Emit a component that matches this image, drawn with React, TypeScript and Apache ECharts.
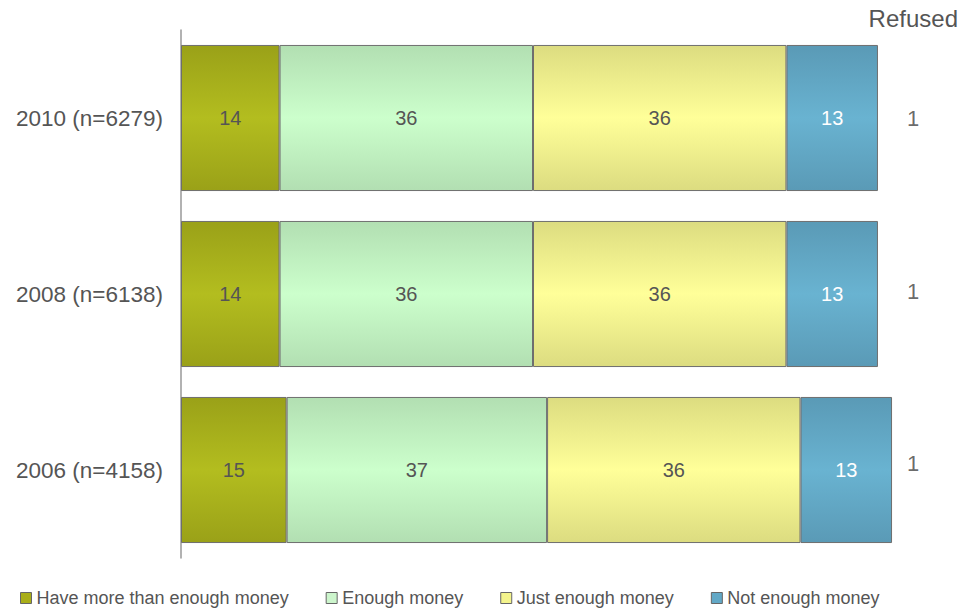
import React, { useEffect, useRef } from "react";
import * as echarts from "echarts";

const categories = ["2010 (n=6279)", "2008 (n=6138)", "2006 (n=4158)"];
const seriesNames = ["Have more than enough money", "Enough money", "Just enough money", "Not enough money"];
const moreThanEnough = [14, 14, 15];
const enough = [36, 36, 37];
const justEnough = [36, 36, 36];
const notEnough = [13, 13, 13];
const refused = [1, 1, 1];

const edgeColors = ["#9aa118", "#b2dfb2", "#dcdc80", "#5a9ab6"];
const midColors = ["#b3bd1f", "#ccffcc", "#ffff99", "#69b3d1"];
const solidColors = ["#a9ae18", "#ccf5cc", "#f4f48c", "#62a8c6"];
const labelColors = ["#555555", "#555555", "#555555", "#ffffff"];
const refusedOffsets = [[0, 0], [0, -3], [0, -7]];

const FONT = "Liberation Sans, Arial, Helvetica, sans-serif";

export default function App() {
  const ref = useRef<HTMLDivElement>(null);
  useEffect(() => {
    if (!ref.current) return;
    document.body.style.margin = "0";
    document.body.style.overflow = "hidden";
    const chart = echarts.init(ref.current, null, { renderer: "svg" });
    const values = [moreThanEnough, enough, justEnough, notEnough];
    const barSeries = values.map((arr, i) => ({
      type: "bar",
      name: seriesNames[i],
      stack: "total",
      barCategoryGap: "17%",
      clip: false,
      data: arr,
      itemStyle: {
        color: new echarts.graphic.LinearGradient(0, 0, 0, 1, [
          { offset: 0, color: edgeColors[i] },
          { offset: 0.5, color: midColors[i] },
          { offset: 1, color: edgeColors[i] },
        ]),
        borderColor: "#6e6e6e",
        borderWidth: 1,
      },
      label: {
        show: true,
        position: "inside",
        color: labelColors[i],
        fontSize: 20,
        fontFamily: FONT,
      },
    }));
    const refusedX = 104;
    chart.setOption({
      animation: false,
      textStyle: { fontFamily: FONT },
      grid: { left: 181, top: 30, width: 774.4, height: 528, containLabel: false },
      xAxis: {
        type: "value",
        min: 0,
        max: 110,
        show: false,
      },
      yAxis: {
        type: "category",
        data: categories,
        inverse: true,
        axisLine: { show: true, lineStyle: { color: "#999999", width: 1.5 } },
        axisTick: { show: false },
        axisLabel: { color: "#555555", fontSize: 22.5, margin: 18, fontFamily: FONT },
        splitLine: { show: false },
      },
      legend: {
        left: 15,
        top: 584,
        itemWidth: 11,
        itemHeight: 11,
        itemGap: 37,
        icon: "rect",
        textStyle: { color: "#555555", fontSize: 18, fontFamily: FONT, padding: [0, 0, 0, 0] },
        data: seriesNames.map((n, i) => ({
          name: n,
          itemStyle: { color: solidColors[i], borderColor: "#666666", borderWidth: 1 },
        })),
      },
      series: [
        ...barSeries,
        {
          type: "scatter",
          name: "Refused",
          symbolSize: 0,
          data: refused.map((v, i) => ({
            value: [refusedX, i, v],
            label: { offset: refusedOffsets[i] },
          })),
          label: {
            show: true,
            position: "inside",
            formatter: (p: any) => String(p.data.value[2]),
            color: "#444444",
            fontSize: 22,
            fontFamily: FONT,
          },
        },
      ],
      graphic: [
        {
          type: "text",
          right: 9,
          top: 6,
          style: { text: "Refused", fill: "#555555", fontSize: 24, fontFamily: FONT },
        },
      ],
    });
    return () => chart.dispose();
  }, []);
  return (
    <div
      ref={ref}
      style={{ position: "absolute", left: 0, top: 0, width: 967, height: 612 }}
    />
  );
}
